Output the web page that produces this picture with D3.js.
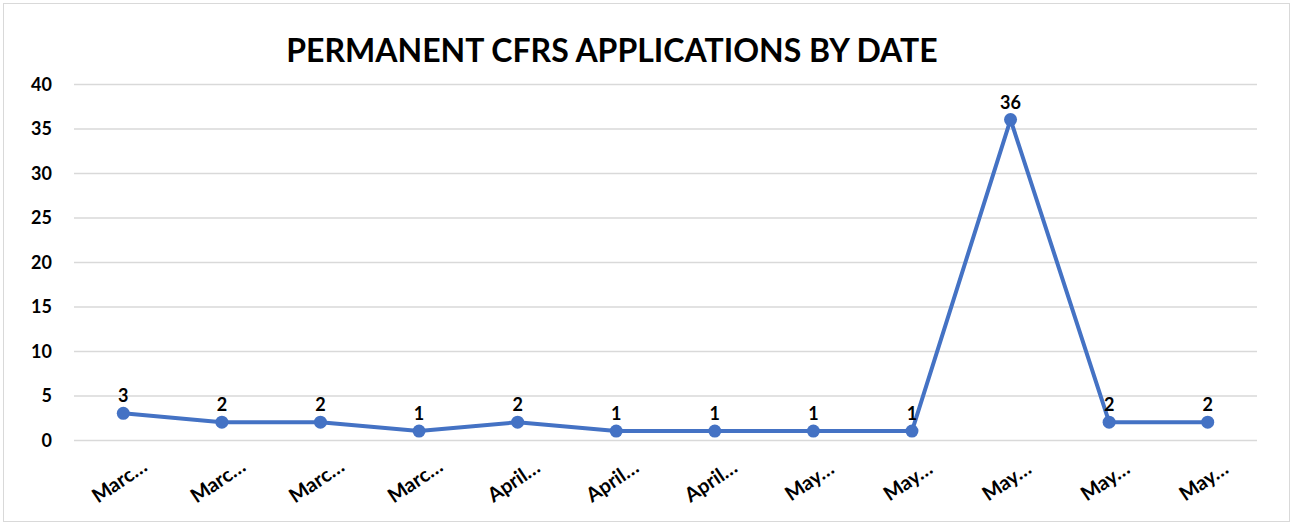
<!DOCTYPE html>
<html><head><meta charset="utf-8">
<script src="https://cdn.jsdelivr.net/npm/d3@7"></script>
<style>
body{margin:0;background:#fff;}
svg text{font-family:Lato, "Open Sans", sans-serif;font-weight:bold;fill:#000;}
</style></head>
<body><svg id="c" width="1301" height="526"></svg>
<script>
const title = "PERMANENT CFRS APPLICATIONS BY DATE";
const categories = ["Marc…","Marc…","Marc…","Marc…","April…","April…","April…","May…","May…","May…","May…","May…"];
const values = [3,2,2,1,2,1,1,1,1,36,2,2];
const yTicks = [0,5,10,15,20,25,30,35,40];

(function(){
const svg = d3.select("#c");
svg.append("rect").attr("x",3.5).attr("y",3.5).attr("width",1286).attr("height",518)
  .attr("fill","#fff").attr("stroke","#d9d9d9").attr("stroke-width",1);

const mLeft = 74, mRight = 1257, mTop = 84, mBottom = 440;
const x = d3.scaleBand().domain(d3.range(categories.length)).range([mLeft,mRight]);
const y = d3.scaleLinear().domain([0,40]).range([mBottom,mTop]);

svg.append("g").selectAll("line").data(yTicks).join("line")
  .attr("x1",mLeft).attr("x2",mRight)
  .attr("y1",d=>y(d)+0.5).attr("y2",d=>y(d)+0.5)
  .attr("stroke","#d9d9d9").attr("stroke-width",1.5);

const yAxis = d3.axisLeft(y).tickValues(yTicks).tickSize(0).tickPadding(0);
const gy = svg.append("g").attr("transform","translate(52,0)").call(yAxis);
gy.select(".domain").remove();
gy.selectAll("text").style("font-size","18px").style("font-family","Lato, sans-serif").attr("dy","0.35em");

const gx = svg.append("g");
gx.selectAll("text").data(categories).join("text")
  .attr("transform",(d,i)=>`translate(${x(i)+x.bandwidth()/2-4},${481}) rotate(-34)`)
  .attr("text-anchor","middle").attr("dy","0.35em")
  .style("font-size","20px").text(d=>d);

svg.append("text").attr("x",612).attr("y",62).attr("text-anchor","middle")
  .style("font-size","32px").text(title);

const cx = i => x(i)+x.bandwidth()/2;
const line = d3.line().x((d,i)=>cx(i)).y(d=>y(d));
svg.append("path").datum(values).attr("d",line).attr("fill","none")
  .attr("stroke","#4472C4").attr("stroke-width",4).attr("stroke-linejoin","round");
svg.append("g").selectAll("circle").data(values).join("circle")
  .attr("cx",(d,i)=>cx(i)).attr("cy",d=>y(d)).attr("r",6.5).attr("fill","#4472C4");

svg.append("g").selectAll("text").data(values).join("text")
  .attr("x",(d,i)=>cx(i)).attr("y",d=>y(d)-11).attr("text-anchor","middle")
  .style("font-size","18px").text(d=>d);
})();
</script></body></html>
